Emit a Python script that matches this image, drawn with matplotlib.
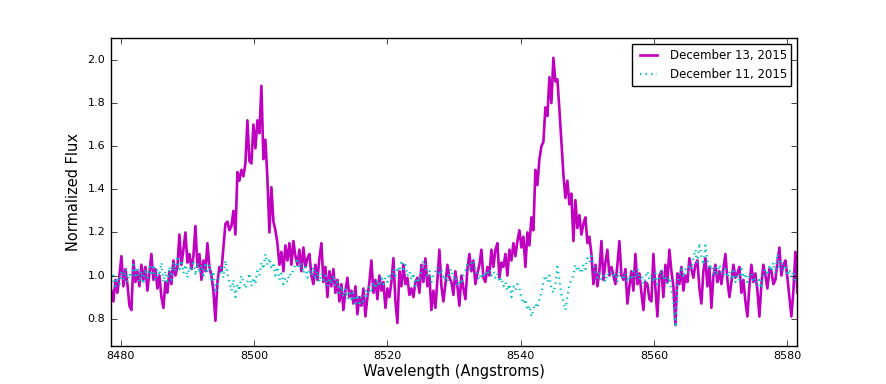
import numpy as np
import matplotlib
matplotlib.use('Agg')
import matplotlib.pyplot as plt

# wavelength grid of the spectra (Angstroms)
wl_start = 8478.6
wl_step = 0.3

# normalized flux, December 13, 2015
flux_dec13 = [
    0.93, 0.88, 0.98, 0.92, 1.00, 1.09, 0.95, 1.03, 0.96, 0.86,
    0.84, 1.07, 0.97, 1.02, 0.95, 1.05, 0.98, 1.04, 0.93, 1.01,
    1.10, 0.98, 1.03, 0.94, 1.00, 0.90, 0.85, 0.97, 0.92, 1.02,
    0.96, 1.07, 1.00, 1.04, 1.19, 1.05, 1.12, 1.20, 1.06, 1.10,
    1.03, 1.09, 1.23, 1.04, 1.10, 0.98, 1.07, 1.02, 1.15, 1.04,
    1.00, 0.93, 0.79, 0.97, 1.04, 1.02, 1.13, 1.24, 1.25, 1.21,
    1.23, 1.30, 1.19, 1.48, 1.44, 1.49, 1.46, 1.52, 1.72, 1.53,
    1.52, 1.70, 1.59, 1.72, 1.66, 1.88, 1.54, 1.63, 1.45, 1.20,
    1.41, 1.25, 1.21, 1.15, 1.05, 1.11, 1.02, 1.14, 1.07, 1.15,
    1.05, 1.16, 1.09, 1.05, 1.12, 1.02, 1.13, 1.04, 1.08, 1.10,
    1.00, 0.96, 1.05, 0.98, 1.08, 1.15, 0.97, 1.04, 0.90, 1.02,
    0.95, 1.03, 0.92, 0.98, 0.88, 0.96, 0.84, 0.93, 0.99, 0.90,
    0.93, 0.87, 0.95, 0.82, 0.90, 0.86, 0.94, 0.81, 0.90, 0.97,
    1.07, 0.92, 0.98, 0.89, 1.00, 0.93, 0.97, 0.85, 0.94, 0.90,
    0.97, 1.08, 0.88, 0.78, 1.02, 0.95, 1.05, 0.96, 0.99, 0.91,
    0.94, 0.90, 0.97, 0.99, 0.92, 1.05, 0.97, 1.08, 0.95, 1.00,
    0.84, 0.93, 0.85, 0.98, 1.12, 0.95, 0.88, 0.96, 1.05, 0.99,
    0.97, 0.91, 1.02, 0.95, 0.86, 1.00, 0.94, 0.89, 1.03, 1.10,
    1.02, 1.07, 0.96, 1.01, 1.05, 1.12, 0.99, 0.97, 1.04, 1.00,
    1.12, 1.04, 1.12, 1.15, 0.99, 1.06, 1.04, 1.10, 1.00, 1.12,
    1.07, 1.15, 1.09, 1.16, 1.21, 1.13, 1.18, 1.04, 1.20, 1.14,
    1.27, 1.21, 1.49, 1.42, 1.54, 1.60, 1.62, 1.78, 1.74, 1.92,
    1.80, 2.01, 1.90, 1.91, 1.77, 1.62, 1.47, 1.36, 1.44, 1.33,
    1.38, 1.16, 1.35, 1.22, 1.28, 1.19, 1.24, 1.27, 1.15, 1.18,
    1.10, 0.96, 1.05, 0.95, 1.02, 1.16, 0.98, 1.06, 1.12, 1.00,
    1.04, 1.00, 0.96, 1.05, 1.16, 1.00, 0.98, 1.03, 0.87, 0.95,
    1.02, 0.93, 1.10, 0.96, 1.01, 0.92, 0.84, 0.97, 0.96, 0.89,
    0.88, 1.10, 0.94, 0.81, 1.00, 1.02, 0.90, 1.05, 0.97, 1.12,
    1.02, 0.95, 0.77, 1.01, 0.96, 1.04, 0.93, 1.00, 0.97, 1.08,
    1.03, 0.99, 1.05, 1.07, 0.94, 0.87, 1.02, 1.08, 0.95, 1.04,
    0.85, 1.00, 1.05, 0.97, 1.02, 0.96, 1.03, 1.10, 0.98, 0.90,
    0.97, 1.05, 0.99, 1.01, 1.04, 0.92, 0.98, 0.88, 0.81, 0.95,
    1.05, 0.97, 1.01, 0.93, 0.81, 0.96, 1.05, 1.00, 0.94, 1.03,
    1.02, 0.96, 0.98, 1.06, 1.13, 1.00, 1.05, 1.07, 0.99, 0.90,
    0.81, 0.93, 1.11, 0.92,
]

# normalized flux, December 11, 2015
flux_dec11 = [
    0.97, 1.00, 0.95, 0.99, 0.96, 1.02, 0.98, 1.03, 0.97, 1.01,
    0.99, 1.05, 1.00, 1.04, 0.97, 1.02, 0.96, 1.03, 0.99, 1.04,
    1.00, 1.05, 0.98, 1.03, 1.00, 1.06, 0.97, 1.02, 0.96, 1.04,
    0.98, 1.06, 1.02, 1.09, 1.03, 1.07, 1.01, 1.05, 0.99, 1.04,
    1.02, 1.07, 1.00, 1.06, 1.01, 1.05, 0.99, 1.06, 1.02, 1.05,
    0.98, 1.02, 0.92, 0.96, 1.00, 1.04, 0.99, 1.07, 1.01, 0.97,
    0.93, 0.98, 0.90, 0.96, 0.93, 1.00, 0.97, 0.94, 0.97, 1.01,
    0.95, 0.99, 0.96, 1.02, 1.00, 1.06, 1.03, 1.10, 1.05, 1.08,
    1.03, 1.06, 1.00, 1.04, 0.98, 1.01, 0.96, 0.99, 0.97, 1.01,
    1.00, 1.03, 1.05, 1.08, 1.03, 1.06, 1.01, 1.04, 0.99, 1.03,
    1.00, 1.04, 0.98, 1.02, 0.97, 1.01, 0.98, 1.00, 0.95, 0.99,
    0.96, 1.00, 0.95, 0.97, 0.92, 0.95, 0.90, 0.94, 0.89, 0.93,
    0.88, 0.92, 0.87, 0.91, 0.86, 0.90, 0.88, 0.93, 0.90, 0.95,
    0.92, 0.97, 0.94, 0.98, 0.95, 1.00, 0.96, 0.99, 0.97, 1.01,
    0.98, 1.03, 1.00, 1.04, 1.02, 1.07, 1.03, 1.05, 1.00, 1.02,
    0.98, 1.01, 0.95, 0.99, 0.97, 1.03, 1.07, 1.04, 1.00, 1.02,
    0.97, 1.00, 1.02, 1.04, 1.00, 1.03, 0.98, 1.00, 0.97, 1.02,
    1.03, 0.99, 1.00, 0.95, 0.98, 0.96, 1.00, 1.02, 1.05, 1.03,
    1.06, 1.07, 1.03, 1.00, 0.98, 1.01, 0.99, 1.02, 1.00, 1.03,
    1.00, 1.02, 0.99, 1.01, 0.97, 0.99, 0.95, 0.97, 0.93, 0.96,
    0.90, 0.95, 0.93, 0.96, 0.94, 0.90, 0.87, 0.89, 0.84, 0.86,
    0.81, 0.84, 0.87, 0.85, 0.89, 0.92, 0.97, 1.00, 0.97, 1.00,
    0.94, 0.92, 0.96, 1.04, 0.98, 0.91, 0.88, 0.84, 0.90, 0.96,
    0.98, 1.00, 1.05, 1.02, 1.04, 1.01, 1.05, 1.03, 1.08, 1.06,
    1.09, 1.05, 1.02, 0.99, 1.01, 0.98, 1.00, 0.97, 1.01, 1.00,
    1.02, 0.99, 1.01, 0.97, 1.02, 1.00, 0.98, 1.01, 0.97, 1.00,
    0.98, 1.02, 0.99, 1.03, 0.98, 1.00, 0.96, 0.99, 1.02, 0.98,
    1.00, 0.97, 1.01, 0.96, 0.99, 1.03, 0.98, 1.00, 0.96, 0.99,
    0.93, 0.88, 0.76, 0.97, 1.00, 1.04, 0.99, 1.03, 1.01, 1.05,
    1.03, 1.08, 1.12, 1.06, 1.15, 1.09, 1.05, 1.14, 1.07, 1.03,
    1.05, 1.00, 1.04, 1.01, 1.05, 1.02, 1.00, 1.03, 0.99, 1.02,
    0.98, 1.02, 0.97, 1.00, 0.98, 1.03, 0.99, 1.01, 0.97, 1.00,
    1.01, 0.97, 0.99, 0.95, 0.98, 0.94, 1.00, 1.03, 1.00, 1.05,
    1.02, 1.06, 1.01, 1.10, 1.04, 1.07, 1.02, 1.05, 1.00, 1.03,
    0.99, 1.02, 0.98, 1.00,
]

labels = ['December 13, 2015', 'December 11, 2015']

wl = wl_start + wl_step * np.arange(len(flux_dec13))

plt.style.use('classic')
fig = plt.figure(figsize=(8.86, 3.84), dpi=100, facecolor='white')
ax = fig.add_axes([0.125, 0.1, 0.775, 0.8])

ax.plot(wl, flux_dec13, 'm-', lw=1.9, label=labels[0])
ax.plot(wl, flux_dec11, 'c:', lw=1.6, label=labels[1])

ax.set_xlim(8478.5, 8581.5)
ax.set_ylim(0.675, 2.1)
ax.set_xticks([8480, 8500, 8520, 8540, 8560, 8580])
ax.set_yticks([0.8, 1.0, 1.2, 1.4, 1.6, 1.8, 2.0])
ax.tick_params(labelsize=8)
ax.set_xlabel('Wavelength (Angstroms)', fontsize=10.5, labelpad=2)
ax.set_ylabel('Normalized Flux', fontsize=10.5)
ax.legend(loc='upper right', fontsize=8.5)

fig.savefig('out.png', dpi=100, facecolor='white')
